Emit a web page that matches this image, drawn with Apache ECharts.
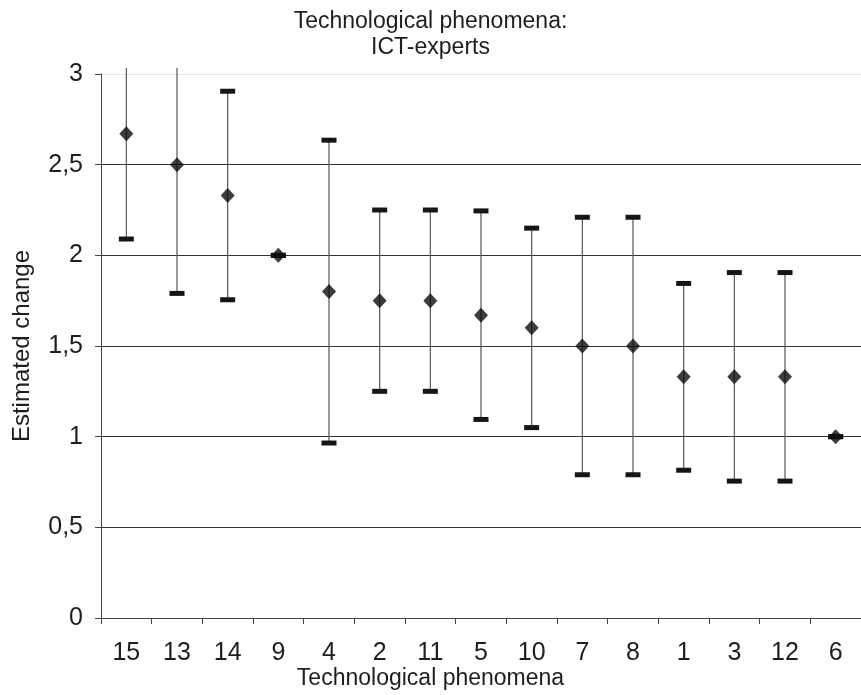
<!DOCTYPE html>
<html>
<head>
<meta charset="utf-8">
<script src="https://cdn.jsdelivr.net/npm/echarts@6/dist/echarts.min.js"></script>
<style>
  html, body { margin: 0; padding: 0; background: #fff; }
  #chart { width: 861px; height: 695px; }
</style>
</head>
<body>
<div id="chart"></div>
<script>
// Technological phenomena, ordered by estimated change (ICT-experts)
var categories = ['15', '13', '14', '9', '4', '2', '11', '5', '10', '7', '8', '1', '3', '12', '6'];
// Mean estimated change per phenomenon
var means = [2.67, 2.5, 2.33, 2.0, 1.8, 1.75, 1.75, 1.67, 1.6, 1.5, 1.5, 1.33, 1.33, 1.33, 1.0];
// Standard deviation (error bar half-length)
var deviations = [0.58, 0.71, 0.575, 0, 0.835, 0.5, 0.5, 0.575, 0.55, 0.71, 0.71, 0.515, 0.575, 0.575, 0];
var yTicks = [0, 0.5, 1, 1.5, 2, 2.5, 3];

var FONT = 'Liberation Sans, Arial, sans-serif';
var TEXT = '#1e1e1e';

var errorData = categories.map(function (c, i) {
  return [i, means[i] - deviations[i], means[i] + deviations[i]];
});
var meanData = categories.map(function (c, i) { return [i, means[i]]; });

function renderError(params, api) {
  var x = api.value(0);
  var lo = api.coord([x, api.value(1)]);
  var hi = api.coord([x, api.value(2)]);
  var cs = params.coordSys;
  var limitTop = cs.y - 6;
  var limitBottom = cs.y + cs.height;
  var topY = Math.max(hi[1], limitTop);
  var botY = Math.min(lo[1], limitBottom);
  var children = [{
    type: 'line',
    shape: { x1: lo[0], y1: botY, x2: lo[0], y2: topY },
    style: { stroke: '#555', lineWidth: 1.2 }
  }];
  var capW = 15, capH = 5;
  if (hi[1] >= limitTop) {
    children.push({ type: 'rect', shape: { x: hi[0] - capW / 2, y: hi[1] - capH / 2, width: capW, height: capH }, style: { fill: '#151515' } });
  }
  if (lo[1] <= limitBottom) {
    children.push({ type: 'rect', shape: { x: lo[0] - capW / 2, y: lo[1] - capH / 2, width: capW, height: capH }, style: { fill: '#151515' } });
  }
  return { type: 'group', children: children };
}

var chart = echarts.init(document.getElementById('chart'), null, { renderer: 'canvas' });
chart.setOption({
  backgroundColor: '#fff',
  animation: false,
  title: [{
    text: 'Technological phenomena:\nICT-experts',
    left: 'center',
    top: 4,
    textStyle: { fontFamily: FONT, fontSize: 23, fontWeight: 'normal', color: TEXT, lineHeight: 26 }
  }, {
    text: 'Technological phenomena',
    left: 'center',
    top: 662,
    textStyle: { fontFamily: FONT, fontSize: 23, fontWeight: 'normal', color: TEXT }
  }],
  grid: { left: 101, top: 74, width: 770, height: 544, containLabel: false },
  xAxis: {
    type: 'category',
    data: categories,
    boundaryGap: true,
    axisLine: { lineStyle: { color: '#444', width: 1 } },
    axisTick: { show: true, alignWithLabel: false, length: 6, lineStyle: { color: '#444' } },
    axisLabel: { fontFamily: FONT, fontSize: 25, color: TEXT, margin: 23, interval: 0 },
    splitLine: { show: false }
  },
  yAxis: {
    type: 'value',
    min: yTicks[0],
    max: yTicks[yTicks.length - 1],
    interval: 0.5,
    name: 'Estimated change',
    nameLocation: 'middle',
    nameGap: 67,
    nameTextStyle: { fontFamily: FONT, fontSize: 24, color: TEXT },
    axisLine: { show: true, lineStyle: { color: '#444', width: 1 } },
    axisTick: { show: true, length: 6, lineStyle: { color: '#444' } },
    axisLabel: {
      fontFamily: FONT, fontSize: 25, color: TEXT, margin: 18,
      formatter: function (v) { return String(v).replace('.', ','); }
    },
    splitLine: { show: true, lineStyle: { color: ['#333', '#333', '#333', '#333', '#333', '#333', '#e6e6e6'], width: 1 } }
  },
  series: [{
    type: 'custom',
    data: errorData,
    renderItem: renderError,
    clip: false,
    encode: { x: 0, y: [1, 2] },
    z: 2
  }, {
    type: 'scatter',
    data: meanData,
    symbol: 'diamond',
    symbolSize: [14, 15],
    itemStyle: { color: '#0d0d0d' },
    z: 3
  }]
});
</script>
</body>
</html>
